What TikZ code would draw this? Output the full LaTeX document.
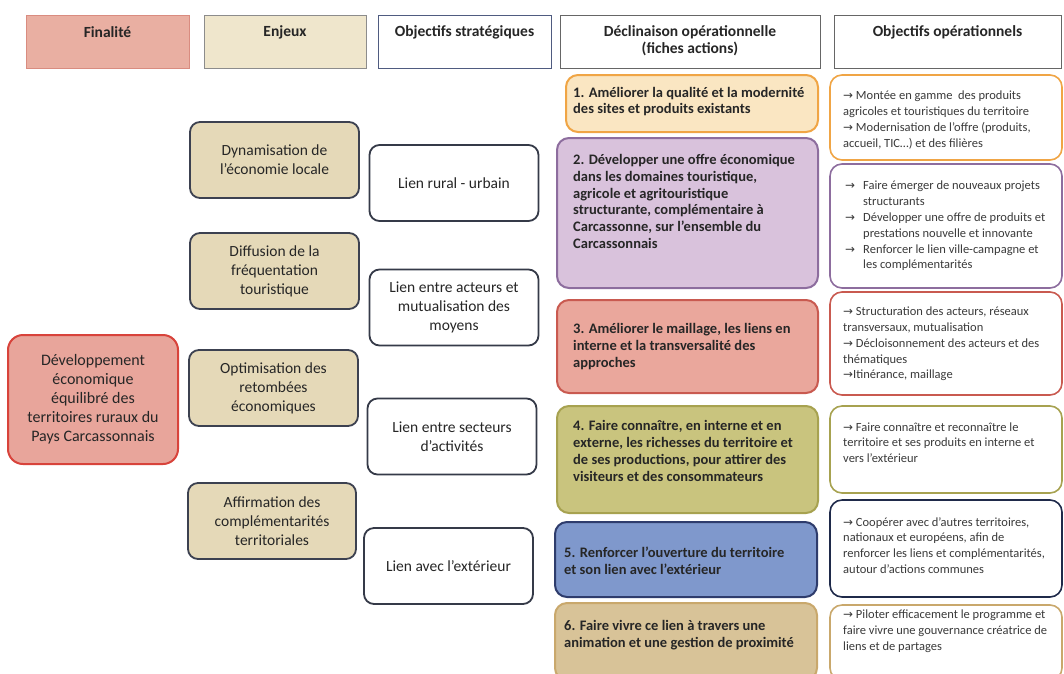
\documentclass[tikz,border=0pt]{standalone}
\usepackage{fontspec}
\setmainfont{Carlito}
\newfontfamily\symfnt[Scale=0.95]{DejaVu Sans}
\newcommand{\rar}{{\symfnt →}}
\newcommand{\ritem}{\makebox[18pt][l]{\rar}}
\newcommand{\rind}{\hspace*{18pt}}
\definecolor{txt}{HTML}{262626}
\definecolor{rtxt}{HTML}{3A3A3A}
\definecolor{hFfill}{HTML}{E9AFA2}
\definecolor{hFdraw}{HTML}{D98C80}
\definecolor{hEfill}{HTML}{EFE6CC}
\definecolor{hEdraw}{HTML}{8C8C8C}
\definecolor{hSdraw}{HTML}{4F5B80}
\definecolor{hDdraw}{HTML}{666666}
\definecolor{devfill}{HTML}{E8A59B}
\definecolor{devdraw}{HTML}{D8433B}
\definecolor{ebfill}{HTML}{E5D9B8}
\definecolor{ebdraw}{HTML}{3C4150}
\definecolor{sbdraw}{HTML}{353A48}
\definecolor{dAfill}{HTML}{FAE6C2}
\definecolor{dAdraw}{HTML}{F0A545}
\definecolor{dBfill}{HTML}{D9C2DC}
\definecolor{dBdraw}{HTML}{8D6D9E}
\definecolor{dCfill}{HTML}{EAA79C}
\definecolor{dCdraw}{HTML}{C95A50}
\definecolor{dDfill}{HTML}{C9C47E}
\definecolor{dDdraw}{HTML}{A7A250}
\definecolor{dEfill}{HTML}{7F98CC}
\definecolor{dEdraw}{HTML}{2E3C6C}
\definecolor{dFfill}{HTML}{D8C398}
\definecolor{dFdraw}{HTML}{C9A86C}
\definecolor{rEdraw}{HTML}{1F2A4A}
\begin{document}
\begin{tikzpicture}[x=1pt,y=-1pt,
  hbox/.style={line width=1pt, minimum height=53pt, inner sep=0pt},
  htext/.style={font=\bfseries\fontsize{15.5}{17}\selectfont, text=txt, inner sep=0pt, align=center},
  ebox/.style={draw=ebdraw, fill=ebfill, line width=1.8pt, rounded corners=10pt, align=center,
    font=\fontsize{15.5}{19}\selectfont, text=txt, inner sep=0pt, minimum height=76pt},
  sbox/.style={draw=sbdraw, fill=white, line width=1.8pt, rounded corners=10pt, align=center,
    font=\fontsize{15.5}{19}\selectfont, text=txt, inner sep=0pt, minimum height=76pt, minimum width=169pt},
  dbox/.style={line width=2pt, rounded corners=12pt, inner sep=0pt},
  rbox/.style={line width=1.6pt, rounded corners=12pt, inner sep=0pt, fill=white, minimum width=232pt},
  dtext/.style={anchor=west, align=left, font=\bfseries\fontsize{14.5}{16.7}\selectfont, inner sep=0pt, text=txt},
  rtext/.style={anchor=west, align=left, font=\fontsize{12.5}{15.8}\selectfont, inner sep=0pt, text=rtxt}
]
\clip (0,0) rectangle (1064,673);
\fill[white] (0,0) rectangle (1064,673);

% headers
\node[hbox, draw=hFdraw, fill=hFfill, minimum width=163pt] (hF) at (107.5,41.5) {};
\node[htext] (hFt) at (107.5,32) {Finalité};
\node[hbox, draw=hEdraw, fill=hEfill, minimum width=162pt] (hE) at (285,41.5) {};
\node[htext] (hEt) at (285,32) {Enjeux};
\node[hbox, draw=hSdraw, fill=white, minimum width=173pt] (hS) at (464.5,41.5) {};
\node[htext] (hSt) at (464.5,32) {Objectifs stratégiques};
\node[hbox, draw=hDdraw, fill=white, minimum width=260pt] (hD) at (690,41.5) {};
\node[htext] (hDt) at (690,41) {Déclinaison opérationnelle\\(fiches actions)};
\node[hbox, draw=hDdraw, fill=white, minimum width=227pt] (hO) at (947.5,41.5) {};
\node[htext] (hOt) at (947.5,32) {Objectifs opérationnels};

% finalite
\node[draw=devdraw, fill=devfill, line width=2pt, rounded corners=15pt, minimum width=170pt, minimum height=129pt,
  align=center, font=\fontsize{16}{19}\selectfont, text=txt, inner sep=0pt] (dev) at (93,399.5)
  {Développement\\économique\\équilibré des\\territoires ruraux du\\Pays Carcassonnais};

% enjeux
\node[ebox, minimum width=169pt] (e1) at (274.5,160) {Dynamisation de\\l'économie locale};
\node[ebox, minimum width=169pt] (e2) at (274.5,271) {Diffusion de la\\fréquentation\\touristique};
\node[ebox, minimum width=169pt] (e3) at (273.5,388) {Optimisation des\\retombées\\économiques};
\node[ebox, minimum width=168pt] (e4) at (272,521) {Affirmation des\\complémentarités\\territoriales};

% objectifs strategiques
\node[sbox] (s1) at (454,183) {Lien rural - urbain};
\node[sbox] (s2) at (454,307.5) {Lien entre acteurs et\\mutualisation des\\moyens};
\node[sbox] (s3) at (452,436.5) {Lien entre secteurs\\d'activités};
\node[sbox] (s4) at (448.5,566) {Lien avec l'extérieur};

% declinaison
\node[dbox, draw=dAdraw, fill=dAfill, minimum width=252pt, minimum height=57pt] (d1) at (692,103.5) {};
\node[dtext] (d1t) at (573,101.5) {1. Améliorer la qualité et la modernité\\des sites et produits existants};
\node[dbox, draw=dBdraw, fill=dBfill, minimum width=261pt, minimum height=150pt] (d2) at (687.5,213) {};
\node[dtext] (d2t) at (573,201.5) {2. Développer une offre économique\\dans les domaines touristique,\\agricole et agritouristique\\structurante, complémentaire à\\Carcassonne, sur l'ensemble du\\Carcassonnais};
\node[dbox, draw=dCdraw, fill=dCfill, minimum width=261pt, minimum height=93pt] (d3) at (687.5,346.5) {};
\node[dtext] (d3t) at (573,346.5) {3. Améliorer le maillage, les liens en\\interne et la transversalité des\\approches};
\node[dbox, draw=dDdraw, fill=dDfill, minimum width=261pt, minimum height=107pt] (d4) at (687.5,459.5) {};
\node[dtext] (d4t) at (573,451) {4. Faire connaître, en interne et en\\externe, les richesses du territoire et\\de ses productions, pour attirer des\\visiteurs et des consommateurs};
\node[dbox, draw=dEdraw, fill=dEfill, minimum width=262pt, minimum height=75pt] (d5) at (686,559.5) {};
\node[dtext] (d5t) at (564,561) {5. Renforcer l'ouverture du territoire\\et son lien avec l'extérieur};
\node[dbox, draw=dFdraw, fill=dFfill, minimum width=262pt, minimum height=77pt] (d6) at (686,641.5) {};
\node[dtext] (d6t) at (564,635) {6. Faire vivre ce lien à travers une\\animation et une gestion de proximité};

% objectifs operationnels
\node[rbox, draw=dAdraw, minimum height=85pt] (r1) at (946,117.5) {};
\node[rtext] (r1t) at (843,120) {\rar{} Montée en gamme\ \ des produits\\agricoles et touristiques du territoire\\\rar{} Modernisation de l'offre (produits,\\accueil, TIC…) et des filières};
\node[rbox, draw=dBdraw, minimum height=124pt] (r2) at (946,226) {};
\node[rtext] (r2t) at (845,226) {\ritem Faire émerger de nouveaux projets\\\rind structurants\\\ritem Développer une offre de produits et\\\rind prestations nouvelle et innovante\\\ritem Renforcer le lien ville-campagne et\\\rind les complémentarités};
\node[rbox, draw=dCdraw, minimum height=103pt] (r3) at (946,343.5) {};
\node[rtext] (r3t) at (843,344) {\rar{} Structuration des acteurs, réseaux\\transversaux, mutualisation\\\rar{} Décloisonnement des acteurs et des\\thématiques\\\rar Itinérance, maillage};
\node[rbox, draw=dDdraw, minimum height=87pt] (r4) at (946,449.5) {};
\node[rtext] (r4t) at (843,442.5) {\rar{} Faire connaître et reconnaître le\\territoire et ses produits en interne et\\vers l'extérieur};
\node[rbox, draw=rEdraw, minimum height=97pt] (r5) at (946,548.5) {};
\node[rtext] (r5t) at (843,545.5) {\rar{} Coopérer avec d'autres territoires,\\nationaux et européens, afin de\\renforcer les liens et complémentarités,\\autour d'actions communes};
\node[rbox, draw=dFdraw, minimum height=75pt] (r6) at (946,642.5) {};
\node[rtext] (r6t) at (843,631) {\rar{} Piloter efficacement le programme et\\faire vivre une gouvernance créatrice de\\liens et de partages};
\end{tikzpicture}
\end{document}
